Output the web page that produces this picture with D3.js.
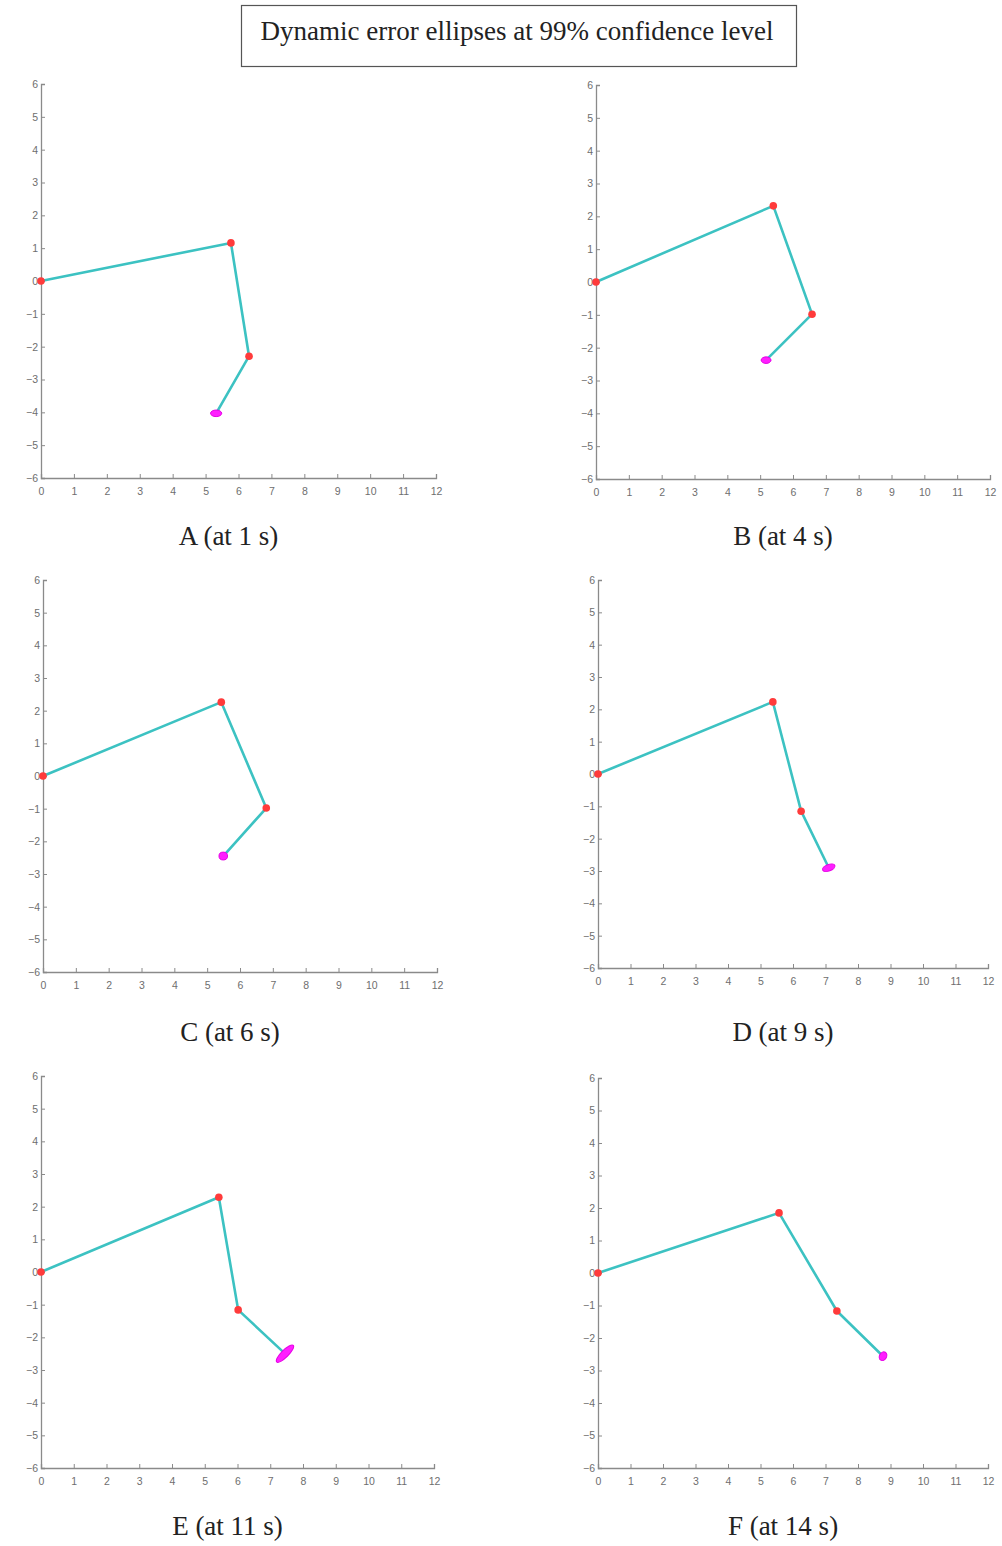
<!DOCTYPE html>
<html>
<head>
<meta charset="utf-8">
<script src="https://cdn.jsdelivr.net/npm/d3@7"></script>
<style>
  body { margin: 0; background: #fff; }
  svg { display: block; }
  .serif { font-family: "Times New Roman", "Liberation Serif", "DejaVu Serif", serif; }
</style>
</head>
<body>
<svg id="chart" width="1002" height="1546"></svg>
<script>
/* global d3 */

// values
const titleText = 'Dynamic error ellipses at 99% confidence level';
const panelLabels = ['A (at 1 s)', 'B (at 4 s)', 'C (at 6 s)', 'D (at 9 s)', 'E (at 11 s)', 'F (at 14 s)'];
const xTicks = d3.range(0, 13);
const yTicks = d3.range(-6, 7);

// joint positions of the arm: base, joint 1, joint 2, end point
const jointX = [
  [0, 5.77, 6.32, 5.32],
  [0, 5.40, 6.58, 5.18],
  [0, 5.43, 6.80, 5.49],
  [0, 5.38, 6.25, 7.10],
  [0, 5.43, 6.02, 7.45],
  [0, 5.57, 7.35, 8.77],
];
const jointY = [
  [0, 1.16, -2.29, -4.03],
  [0, 2.32, -0.98, -2.38],
  [0, 2.26, -0.98, -2.45],
  [0, 2.23, -1.15, -2.90],
  [0, 2.29, -1.16, -2.50],
  [0, 1.85, -1.17, -2.56],
];
// error ellipse at the end point (semi-axes in data units, angle in degrees)
const ellipseRx = [0.17, 0.15, 0.13, 0.20, 0.36, 0.14];
const ellipseRy = [0.10, 0.10, 0.12, 0.10, 0.11, 0.11];
const ellipseAngle = [0, 0, 0, 20, 45, 60];

// plot frames in page pixels
const frames = [
  { left: 41, right: 436, top: 84, bottom: 478, labelY: 545 },
  { left: 596, right: 990, top: 85, bottom: 479, labelY: 545 },
  { left: 43, right: 437, top: 580, bottom: 972, labelY: 1041 },
  { left: 598, right: 988, top: 580, bottom: 968, labelY: 1041 },
  { left: 41, right: 434, top: 1076, bottom: 1468, labelY: 1535 },
  { left: 598, right: 988, top: 1078, bottom: 1468, labelY: 1535 },
];

const svg = d3.select('#chart');

svg.append('rect')
  .attr('x', 241.5).attr('y', 5.5)
  .attr('width', 555).attr('height', 61)
  .attr('fill', '#fff')
  .attr('stroke', '#555')
  .attr('stroke-width', 1.2);

svg.append('text')
  .attr('class', 'serif')
  .attr('x', 517).attr('y', 40)
  .attr('text-anchor', 'middle')
  .attr('font-size', 27)
  .attr('fill', '#222')
  .text(titleText);

frames.forEach((f, i) => {
  const x = d3.scaleLinear().domain([0, 12]).range([f.left, f.right]);
  const y = d3.scaleLinear().domain([-6, 6]).range([f.bottom, f.top]);
  const g = svg.append('g');

  const xAxis = g.append('g')
    .attr('transform', `translate(0,${f.bottom})`)
    .call(d3.axisTop(x).tickValues(xTicks).tickSize(4).tickFormat(d3.format('d')));
  xAxis.selectAll('text').attr('dy', null).attr('y', 17);

  const yAxis = g.append('g')
    .attr('transform', `translate(${f.left},0)`)
    .call(d3.axisRight(y).tickValues(yTicks).tickSize(4).tickFormat(d3.format('d')));
  yAxis.selectAll('text').attr('x', -3).attr('text-anchor', 'end');

  [xAxis, yAxis].forEach((a) => {
    a.select('.domain').attr('stroke', '#8a8a8a').attr('stroke-width', 1.3);
    a.selectAll('.tick line').attr('stroke', '#8a8a8a');
    a.selectAll('text')
      .attr('fill', '#6e6e6e')
      .attr('font-family', '"Liberation Sans", Arial, sans-serif')
      .attr('font-size', 10.5);
  });

  const pts = jointX[i].map((d, k) => [d, jointY[i][k]]);
  g.append('path')
    .attr('d', d3.line().x((d) => x(d[0])).y((d) => y(d[1]))(pts))
    .attr('fill', 'none')
    .attr('stroke', '#3cc2c2')
    .attr('stroke-width', 2.6)
    .attr('stroke-linejoin', 'round');

  g.selectAll('circle.joint')
    .data(pts.slice(0, 3))
    .join('circle')
    .attr('class', 'joint')
    .attr('cx', (d) => x(d[0]))
    .attr('cy', (d) => y(d[1]))
    .attr('r', 3.8)
    .attr('fill', '#ff3b3b');

  const end = pts[3];
  const kx = x(1) - x(0);
  const ky = y(0) - y(1);
  g.append('ellipse')
    .attr('cx', 0).attr('cy', 0)
    .attr('rx', ellipseRx[i] * kx)
    .attr('ry', ellipseRy[i] * ky)
    .attr('transform', `translate(${x(end[0])},${y(end[1])}) rotate(${-ellipseAngle[i]})`)
    .attr('fill', '#ff1fff')
    .attr('stroke', '#e600e6')
    .attr('stroke-width', 1);

  svg.append('text')
    .attr('class', 'serif')
    .attr('x', (f.left + f.right) / 2 - 10)
    .attr('y', f.labelY)
    .attr('text-anchor', 'middle')
    .attr('font-size', 27)
    .attr('fill', '#222')
    .text(panelLabels[i]);
});
</script>
</body>
</html>
